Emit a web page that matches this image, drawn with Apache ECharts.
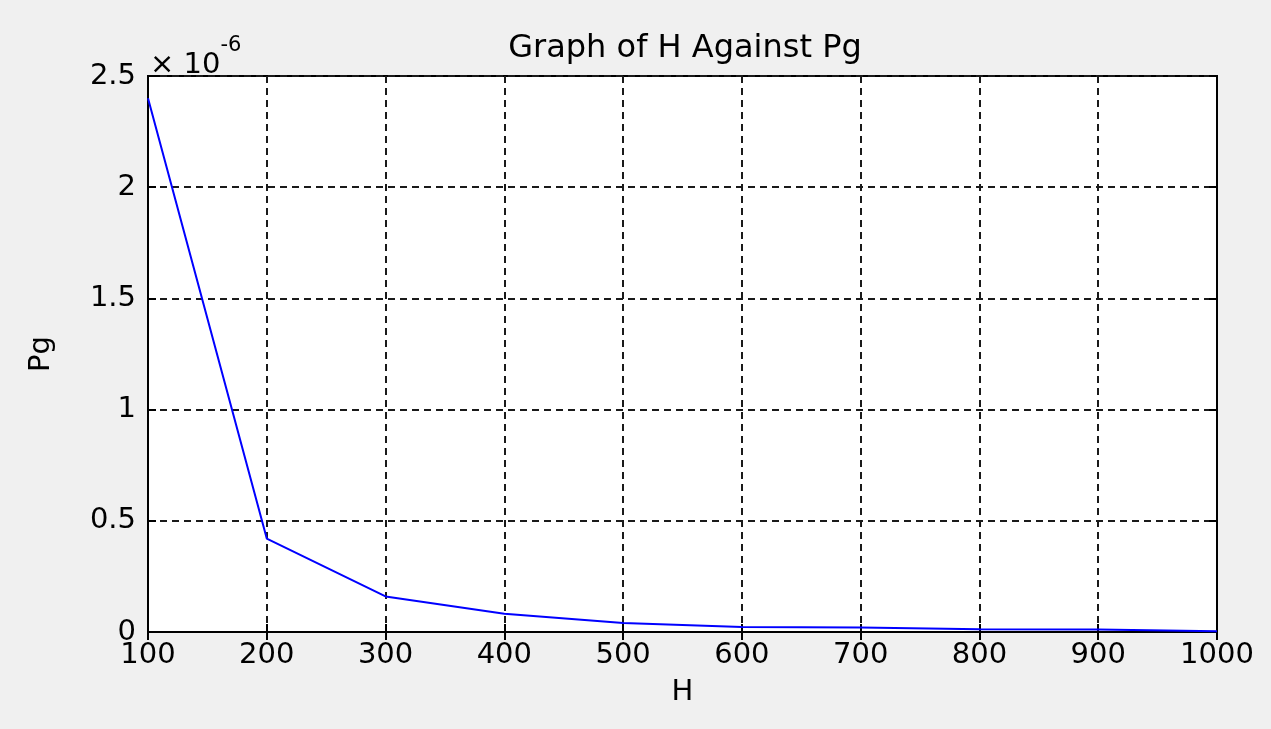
<!DOCTYPE html>
<html>
<head>
<meta charset="utf-8">
<title>Graph of H Against Pg</title>
<script src="https://cdn.jsdelivr.net/npm/echarts@6/dist/echarts.min.js"></script>
<style>
  html, body { margin: 0; padding: 0; background: #f0f0f0; }
  #chart { width: 1271px; height: 729px; }
</style>
</head>
<body>
<div id="chart"></div>
<script>
  // H values (x axis)
  var hValues = [100, 200, 300, 400, 500, 600, 700, 800, 900, 1000];
  // Pg values, in units of 10^-6
  var pgValues = [2.40, 0.42, 0.16, 0.082, 0.040, 0.022, 0.020, 0.012, 0.011, 0.003];
  var xTicks = [100, 1000, 100];   // min, max, step
  var yTicks = [0, 2.5, 0.5];

  var font = 'DejaVu Sans';
  var grid = { left: 148, right: 54, top: 76, bottom: 97 };

  var dashed = { color: '#1a1a1a', width: 2, type: [7, 5] };
  var tickStyle = { show: true, inside: true, length: 8, lineStyle: { color: '#000', width: 2 } };

  var chart = echarts.init(document.getElementById('chart'));
  var option = {
    backgroundColor: '#f0f0f0',
    animation: false,
    title: [
      {
        text: 'Graph of H Against Pg',
        left: 680, top: 28, textAlign: 'center',
        textStyle: { fontFamily: font, fontSize: 32, fontWeight: 'normal', color: '#000' }
      },
      {
        text: '{a|× 10}{b|-6}',
        left: 145, top: 30,
        textStyle: {
          rich: {
            a: { fontFamily: font, fontSize: 29, fontWeight: 'normal', color: '#000', padding: [16, 0, 0, 0] },
            b: { fontFamily: font, fontSize: 21, fontWeight: 'normal', color: '#000', verticalAlign: 'top' }
          }
        }
      }
    ],
    grid: Object.assign({ show: true, backgroundColor: '#fff', borderColor: '#000', borderWidth: 2 }, grid),
    xAxis: [
      {
        type: 'value', min: xTicks[0], max: xTicks[1], interval: xTicks[2],
        name: 'H', nameLocation: 'middle', nameGap: 46,
        nameTextStyle: { fontFamily: font, fontSize: 29, color: '#000' },
        axisLine: { show: true, onZero: false, lineStyle: { color: '#000', width: 2 } },
        axisTick: tickStyle,
        axisLabel: { fontFamily: font, fontSize: 29, color: '#000', margin: 9,
          formatter: function (v) { return String(v); } },
        splitLine: { show: true, lineStyle: dashed }
      },
      {
        type: 'value', min: xTicks[0], max: xTicks[1], interval: xTicks[2], position: 'top',
        axisLine: { show: true, lineStyle: { color: '#000', width: 2 } },
        axisTick: tickStyle,
        axisLabel: { show: false },
        splitLine: { show: false }
      }
    ],
    yAxis: [
      {
        type: 'value', min: yTicks[0], max: yTicks[1], interval: yTicks[2],
        name: 'Pg', nameLocation: 'middle', nameGap: 92,
        nameTextStyle: { fontFamily: font, fontSize: 29, color: '#000' },
        axisLine: { show: true, onZero: false, lineStyle: { color: '#000', width: 2 } },
        axisTick: tickStyle,
        axisLabel: { fontFamily: font, fontSize: 29, color: '#000', margin: 12 },
        splitLine: { show: true, lineStyle: dashed }
      },
      {
        type: 'value', min: yTicks[0], max: yTicks[1], interval: yTicks[2], position: 'right',
        axisLine: { show: true, lineStyle: { color: '#000', width: 2 } },
        axisTick: tickStyle,
        axisLabel: { show: false },
        splitLine: { show: false }
      }
    ],
    series: [
      {
        type: 'line',
        data: hValues.map(function (h, i) { return [h, pgValues[i]]; }),
        showSymbol: false,
        lineStyle: { color: '#0000ff', width: 2 },
        itemStyle: { color: '#0000ff' }
      }
    ]
  };
  chart.setOption(option);
</script>
</body>
</html>
